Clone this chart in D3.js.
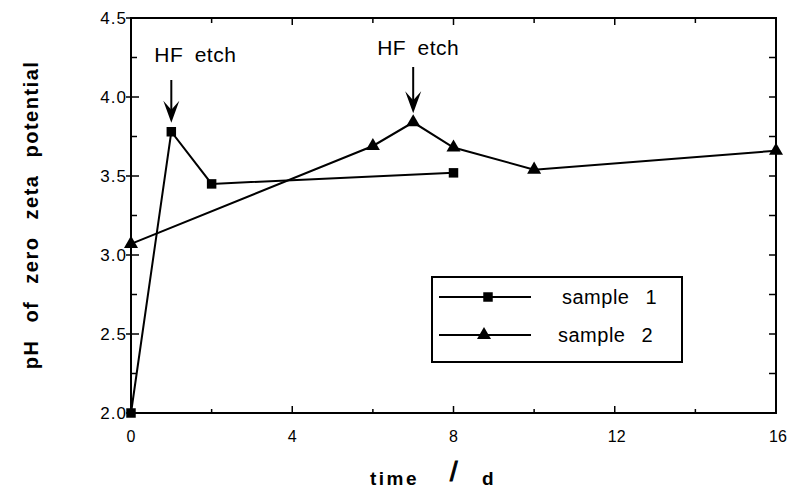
<!DOCTYPE html>
<html><head><meta charset="utf-8">
<script src="https://cdn.jsdelivr.net/npm/d3@7"></script>
<style>
body{margin:0;background:#fff;}
text{font-family:"Liberation Sans",Arial,Helvetica,sans-serif;fill:#000;}
</style></head>
<body>
<svg id="chart" width="789" height="488"></svg>
<script>
const sample1X = [0, 1, 2, 8];
const sample1Y = [2.0, 3.78, 3.45, 3.52];
const sample2X = [0, 6, 7, 8, 10, 16];
const sample2Y = [3.07, 3.69, 3.84, 3.68, 3.54, 3.66];
const xTickLabels = [0, 4, 8, 12, 16];
const yTickLabels = [2.0, 2.5, 3.0, 3.5, 4.0, 4.5];
const annotations = [{x: 1, label: "HF etch"}, {x: 7, label: "HF etch"}];
const legendLabels = ["sample 1", "sample 2"];

const svg = d3.select("#chart");
const L = 131, R = 776, T = 18, B = 413;
const x = d3.scaleLinear().domain([0, 16]).range([L, R]);
const y = d3.scaleLinear().domain([2.0, 4.5]).range([B, T]);

// frame
svg.append("rect").attr("x", L).attr("y", T).attr("width", R - L).attr("height", B - T)
  .attr("fill", "none").attr("stroke", "#000").attr("stroke-width", 2);

const gl = svg.append("g");
yTickLabels.forEach(v => {
  gl.append("line").attr("x1", L - 5).attr("x2", L + 8).attr("y1", y(v)).attr("y2", y(v)).attr("stroke", "#000").attr("stroke-width", 1.5);
  gl.append("text").attr("x", 127).attr("y", y(v) + 6).attr("text-anchor", "end")
    .attr("font-size", 17).attr("letter-spacing", 1).text(d3.format(".1f")(v));
});
d3.range(2.25, 4.5, 0.5).forEach(v => {
  gl.append("line").attr("x1", L).attr("x2", L + 6).attr("y1", y(v)).attr("y2", y(v)).attr("stroke", "#000").attr("stroke-width", 1.5);
});
d3.range(2.25, 4.5, 0.25).forEach(v => {
  gl.append("line").attr("x1", R - 7).attr("x2", R).attr("y1", y(v)).attr("y2", y(v)).attr("stroke", "#000").attr("stroke-width", 1.5);
});
d3.range(2, 16, 2).forEach(v => {
  const major = v % 4 === 0;
  gl.append("line").attr("x1", x(v)).attr("x2", x(v)).attr("y1", B).attr("y2", B - (major ? 7 : 4)).attr("stroke", "#000").attr("stroke-width", 1.5);
  gl.append("line").attr("x1", x(v)).attr("x2", x(v)).attr("y1", T).attr("y2", T + (major ? 7 : 5)).attr("stroke", "#000").attr("stroke-width", 1.5);
});
xTickLabels.forEach(v => {
  const t = gl.append("text").attr("y", 442).attr("font-size", 16).text(v);
  if (v >= 10) t.attr("x", x(v) - 7).attr("word-spacing", 0);
  else t.attr("x", x(v)).attr("text-anchor", "middle");
});

// axis titles
svg.append("text").attr("x", 370).attr("y", 485).attr("font-size", 19).attr("font-weight", "bold")
  .attr("letter-spacing", 2.5).text("time");
svg.append("text").attr("x", 450).attr("y", 481).attr("font-size", 27)
  .attr("stroke", "#000").attr("stroke-width", 1).text("/");
svg.append("text").attr("x", 482).attr("y", 485).attr("font-size", 19).attr("font-weight", "bold").text("d");

svg.append("text").attr("transform", "translate(38,215) rotate(-90)").attr("text-anchor", "middle")
  .attr("font-size", 20).attr("font-weight", "bold").attr("letter-spacing", 1.5).attr("word-spacing", 10)
  .text("pH of zero zeta potential");

// data
const line = d3.line().x(d => x(d[0])).y(d => y(d[1]));
const s1 = sample1X.map((v, i) => [v, sample1Y[i]]);
const s2 = sample2X.map((v, i) => [v, sample2Y[i]]);
svg.append("path").attr("d", line(s1)).attr("fill", "none").attr("stroke", "#000").attr("stroke-width", 2);
svg.append("path").attr("d", line(s2)).attr("fill", "none").attr("stroke", "#000").attr("stroke-width", 2);
const sq = d3.symbol().type(d3.symbolSquare).size(90);
const tri = d3.symbol().type(d3.symbolTriangle).size(85);
svg.selectAll(".s1").data(s1).join("path").attr("d", sq)
  .attr("transform", d => `translate(${x(d[0])},${y(d[1])})`).attr("fill", "#000");
svg.selectAll(".s2").data(s2).join("path").attr("d", tri)
  .attr("transform", d => `translate(${x(d[0])},${y(d[1])})`).attr("fill", "#000");

// annotations
const annTop = [80, 67], annText = [62, 55], annDx = [-17, -36];
annotations.forEach((a, i) => {
  const px = x(a.x);
  const yv = (a.x === 1 ? sample1Y[1] : sample2Y[2]);
  const tip = y(yv) - 9;
  svg.append("line").attr("x1", px).attr("x2", px).attr("y1", annTop[i]).attr("y2", tip - 8)
    .attr("stroke", "#000").attr("stroke-width", 2);
  svg.append("path").attr("d", `M${px},${tip} L${px - 8},${tip - 22} L${px},${tip - 13} L${px + 8},${tip - 22} Z`)
    .attr("fill", "#000");
  svg.append("text").attr("x", px + annDx[i]).attr("y", annText[i]).attr("font-size", 21)
    .attr("letter-spacing", 0.5).attr("word-spacing", 5).text(a.label);
});

// legend
const lg = svg.append("g");
lg.append("rect").attr("x", 432).attr("y", 277).attr("width", 250).attr("height", 85)
  .attr("fill", "#fff").attr("stroke", "#000").attr("stroke-width", 2);
const rowsY = [297, 335];
legendLabels.forEach((lab, i) => {
  lg.append("line").attr("x1", 439).attr("x2", 531).attr("y1", rowsY[i]).attr("y2", rowsY[i]).attr("stroke", "#000").attr("stroke-width", 2);
  lg.append("path").attr("d", i === 0 ? sq : tri).attr("transform", `translate(${i === 0 ? 488 : 484},${rowsY[i]})`).attr("fill", "#000");
  lg.append("text").attr("x", i === 0 ? 562 : 558).attr("y", rowsY[i] + 7).attr("font-size", 20)
    .attr("letter-spacing", 0.5).attr("word-spacing", 10).text(lab);
});
</script>
</body></html>
